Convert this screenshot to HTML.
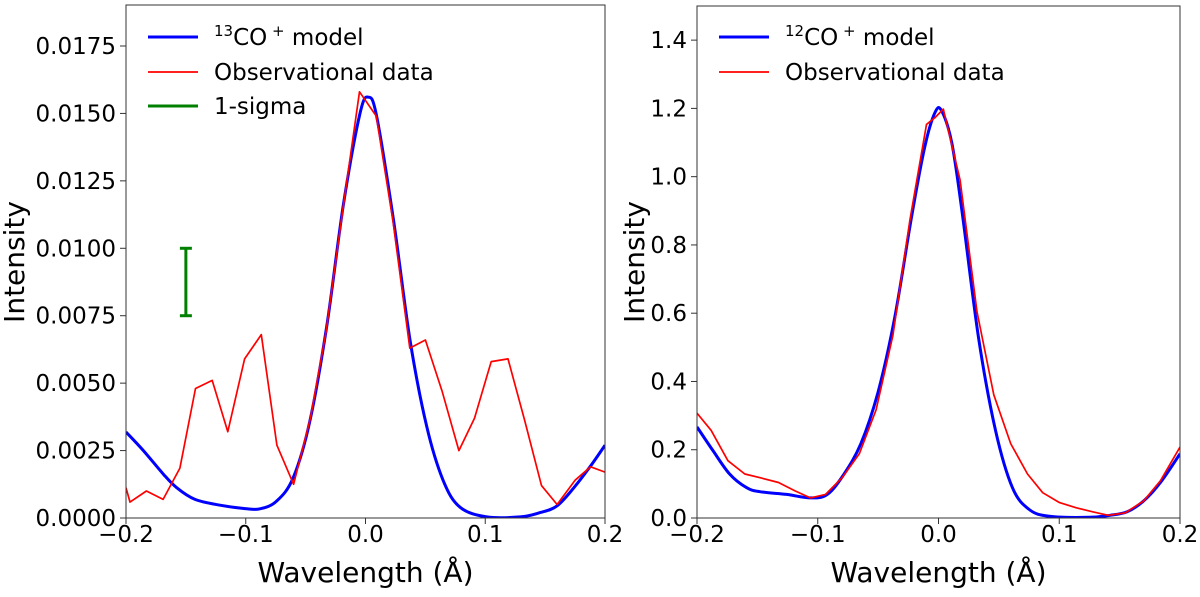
<!DOCTYPE html>
<html><head><meta charset="utf-8"><style>
body{margin:0;background:#fff;}
svg text{font-family:"DejaVu Sans","Liberation Sans",sans-serif;fill:#000;}
</style></head><body>
<svg id="chart" width="1200" height="592" viewBox="0 0 1200 592" xmlns="http://www.w3.org/2000/svg"></svg>
<script>
// Left panel data (13CO+)
const leftModelX=[-0.2,-0.1855,-0.1688,-0.1577,-0.1424,-0.1215,-0.1006,-0.0881,-0.0742,-0.0603,-0.0464,-0.0324,-0.0185,-0.0046,0.0024,0.0093,0.0232,0.0372,0.0511,0.065,0.0789,0.1012,0.129,0.1457,0.1597,0.1736,0.1875,0.2];
const leftModelY=[0.00319,0.0025,0.001625,0.001125,0.00069,0.000475,0.00035,0.00034,0.000625,0.0015,0.0036,0.0071,0.0116,0.0150,0.0156,0.0149,0.0111,0.0066,0.0034,0.00138,0.0004,0.00004,0.00004,0.0002,0.00044,0.0011,0.0019,0.0027];
const leftObsX=[-0.2,-0.1967,-0.183,-0.169,-0.155,-0.142,-0.128,-0.115,-0.101,-0.087,-0.074,-0.060,-0.046,-0.033,-0.019,-0.005,0.009,0.023,0.037,0.050,0.064,0.078,0.091,0.105,0.119,0.133,0.147,0.160,0.175,0.188,0.2];
const leftObsY=[0.001125,0.00059,0.001,0.00069,0.00185,0.0048,0.0051,0.0032,0.0059,0.0068,0.0027,0.00125,0.0037,0.0069,0.0114,0.0158,0.0149,0.0110,0.0063,0.0066,0.0047,0.0025,0.0037,0.0058,0.0059,0.0036,0.0012,0.0005,0.0014,0.0019,0.0017];
const leftYTicks=[0,0.0025,0.005,0.0075,0.01,0.0125,0.015,0.0175];
const leftYTickLabels=["0.0000","0.0025","0.0050","0.0075","0.0100","0.0125","0.0150","0.0175"];
const sigmaX=-0.15, sigmaLow=0.0075, sigmaHigh=0.01;
// Right panel data (12CO+)
const rightModelX=[-0.2,-0.1869,-0.173,-0.159,-0.1479,-0.1256,-0.1061,-0.0921,-0.0782,-0.0643,-0.0503,-0.0364,-0.0224,-0.0113,-0.0029,0.0026,0.011,0.0194,0.0333,0.0472,0.0612,0.0751,0.0918,0.1253,0.142,0.156,0.1699,0.1838,0.2];
const rightModelY=[0.267,0.198,0.129,0.089,0.077,0.069,0.059,0.069,0.129,0.218,0.366,0.584,0.881,1.089,1.188,1.193,1.099,0.901,0.525,0.257,0.089,0.025,0.005,0.002,0.008,0.018,0.050,0.104,0.188];
const rightObsX=[-0.2,-0.1883,-0.1744,-0.1604,-0.1465,-0.1325,-0.1186,-0.1061,-0.0935,-0.0796,-0.0656,-0.0517,-0.0378,-0.0238,-0.0099,-0.0029,0.004,0.0179,0.0319,0.0458,0.0598,0.0737,0.0863,0.1002,0.1141,0.1281,0.1406,0.1546,0.1699,0.1838,0.2];
const rightObsY=[0.307,0.257,0.168,0.129,0.117,0.104,0.079,0.059,0.069,0.119,0.188,0.317,0.535,0.871,1.153,1.173,1.198,0.990,0.604,0.361,0.218,0.129,0.074,0.045,0.030,0.018,0.008,0.015,0.050,0.109,0.208];
const rightYTicks=[0,0.2,0.4,0.6,0.8,1.0,1.2,1.4];
const rightYTickLabels=["0.0","0.2","0.4","0.6","0.8","1.0","1.2","1.4"];
const xTicks=[-0.2,-0.1,0,0.1,0.2];
const xTickLabels=["\u22120.2","\u22120.1","0.0","0.1","0.2"];

const NS="http://www.w3.org/2000/svg";
const svg=document.getElementById('chart');
function mk(tag,attrs,parent){const e=document.createElementNS(NS,tag);for(const k in attrs)e.setAttribute(k,attrs[k]);(parent||svg).appendChild(e);return e;}
function smoothPath(pts){
  let d='M'+pts[0][0].toFixed(1)+','+pts[0][1].toFixed(1);
  for(let i=0;i<pts.length-1;i++){
    const p0=pts[Math.max(0,i-1)],p1=pts[i],p2=pts[i+1],p3=pts[Math.min(pts.length-1,i+2)];
    const c1=[p1[0]+(p2[0]-p0[0])/6,p1[1]+(p2[1]-p0[1])/6];
    const c2=[p2[0]-(p3[0]-p1[0])/6,p2[1]-(p3[1]-p1[1])/6];
    d+=' C'+c1[0].toFixed(1)+','+c1[1].toFixed(1)+' '+c2[0].toFixed(1)+','+c2[1].toFixed(1)+' '+p2[0].toFixed(1)+','+p2[1].toFixed(1);
  }
  return d;
}

function panel(p){
  const g=mk('g',{});
  
  
  const sx=v=>p.x0+(v-(-0.2))/(0.4)*(p.x1-p.x0);
  const sy=v=>p.yb-(v/p.ymax)*(p.yb-p.yt);
  const cid='clip-'+p.name;
  const cp=mk('clipPath',{id:cid},g);mk('rect',{x:p.x0,y:p.yt,width:p.x1-p.x0,height:p.yb-p.yt},cp);
  const plot=mk('g',{'clip-path':'url(#'+cid+')'},g);
  const mpts=p.mx.map((x,i)=>[sx(x),sy(p.my[i])]);
  const ml=mk('path',{d:smoothPath(mpts),fill:'none',stroke:'#0000ff','stroke-width':3,'stroke-linejoin':'round'},plot);
  
  
  const ol=mk('polyline',{points:p.ox.map((x,i)=>sx(x).toFixed(1)+','+sy(p.oy[i]).toFixed(1)).join(' '),fill:'none',stroke:'#ff0000','stroke-width':1.7,'stroke-linejoin':'round'},plot);
  
  
  if(p.sigma){
    const sg=mk('g',{stroke:'#008000','stroke-width':3},g);
    
    
    const x=sx(sigmaX);
    mk('line',{x1:x,x2:x,y1:sy(sigmaLow),y2:sy(sigmaHigh)},sg);
    mk('line',{x1:x-6,x2:x+6,y1:sy(sigmaLow),y2:sy(sigmaLow)},sg);
    mk('line',{x1:x-6,x2:x+6,y1:sy(sigmaHigh),y2:sy(sigmaHigh)},sg);
  }
  const fr=mk('rect',{x:p.x0,y:p.yt,width:p.x1-p.x0,height:p.yb-p.yt,fill:'none',stroke:'#333','stroke-width':1},g);
  
  
  xTicks.forEach((v,i)=>{
    const x=sx(v);
    mk('line',{x1:x,x2:x,y1:p.yb,y2:p.yb+6,stroke:'#333','stroke-width':1},g);
    const t=mk('text',{x:x,y:p.yb+24,'font-size':23,'text-anchor':'middle'},g);
    t.textContent=xTickLabels[i];
    
    
  });
  p.yticks.forEach((v,i)=>{
    const y=sy(v);
    mk('line',{x1:p.x0-6,x2:p.x0,y1:y,y2:y,stroke:'#333','stroke-width':1},g);
    const t=mk('text',{x:p.x0-10,y:y+8,'font-size':23,'text-anchor':'end'},g);
    t.textContent=p.ylabels[i];
    
    
  });
  const xt=mk('text',{x:(p.x0+p.x1)/2,y:582,'font-size':28,'text-anchor':'middle'},g);
  xt.textContent='Wavelength (Å)';
  
  
  const yt=mk('text',{x:0,y:0,'font-size':28,'text-anchor':'middle',transform:'translate('+p.ytx+',262) rotate(-90)'},g);
  yt.textContent='Intensity';
  
  
  const lg=mk('g',{},g);
  
  
  const lx=p.x0+22;
  mk('line',{x1:lx,x2:lx+50,y1:37,y2:37,stroke:'#0000ff','stroke-width':3},lg);
  const t1=mk('text',{x:lx+66,y:45,'font-size':23},lg);
  t1.innerHTML='<tspan font-size="15" dy="-9">'+p.iso+'</tspan><tspan dy="9">CO</tspan><tspan font-size="15" dy="-9"> +</tspan><tspan dy="9">  model</tspan>';
  
  
  mk('line',{x1:lx,x2:lx+50,y1:72,y2:72,stroke:'#ff0000','stroke-width':1.7},lg);
  const t2=mk('text',{x:lx+66,y:80,'font-size':23},lg);
  t2.textContent='Observational data';
  
  
  if(p.sigma){
    mk('line',{x1:lx,x2:lx+50,y1:106,y2:106,stroke:'#008000','stroke-width':3},lg);
    const t3=mk('text',{x:lx+66,y:114,'font-size':23},lg);
    t3.textContent='1-sigma';
    
    
  }
}
panel({name:'left-panel',x0:126,x1:605,yt:5,yb:518,ymax:0.01902,mx:leftModelX,my:leftModelY,ox:leftObsX,oy:leftObsY,yticks:leftYTicks,ylabels:leftYTickLabels,ytx:24,sigma:true,iso:'13'});
panel({name:'right-panel',x0:697,x1:1180,yt:6,yb:518,ymax:1.5,mx:rightModelX,my:rightModelY,ox:rightObsX,oy:rightObsY,yticks:rightYTicks,ylabels:rightYTickLabels,ytx:644,sigma:false,iso:'12'});
</script>
</body></html>
